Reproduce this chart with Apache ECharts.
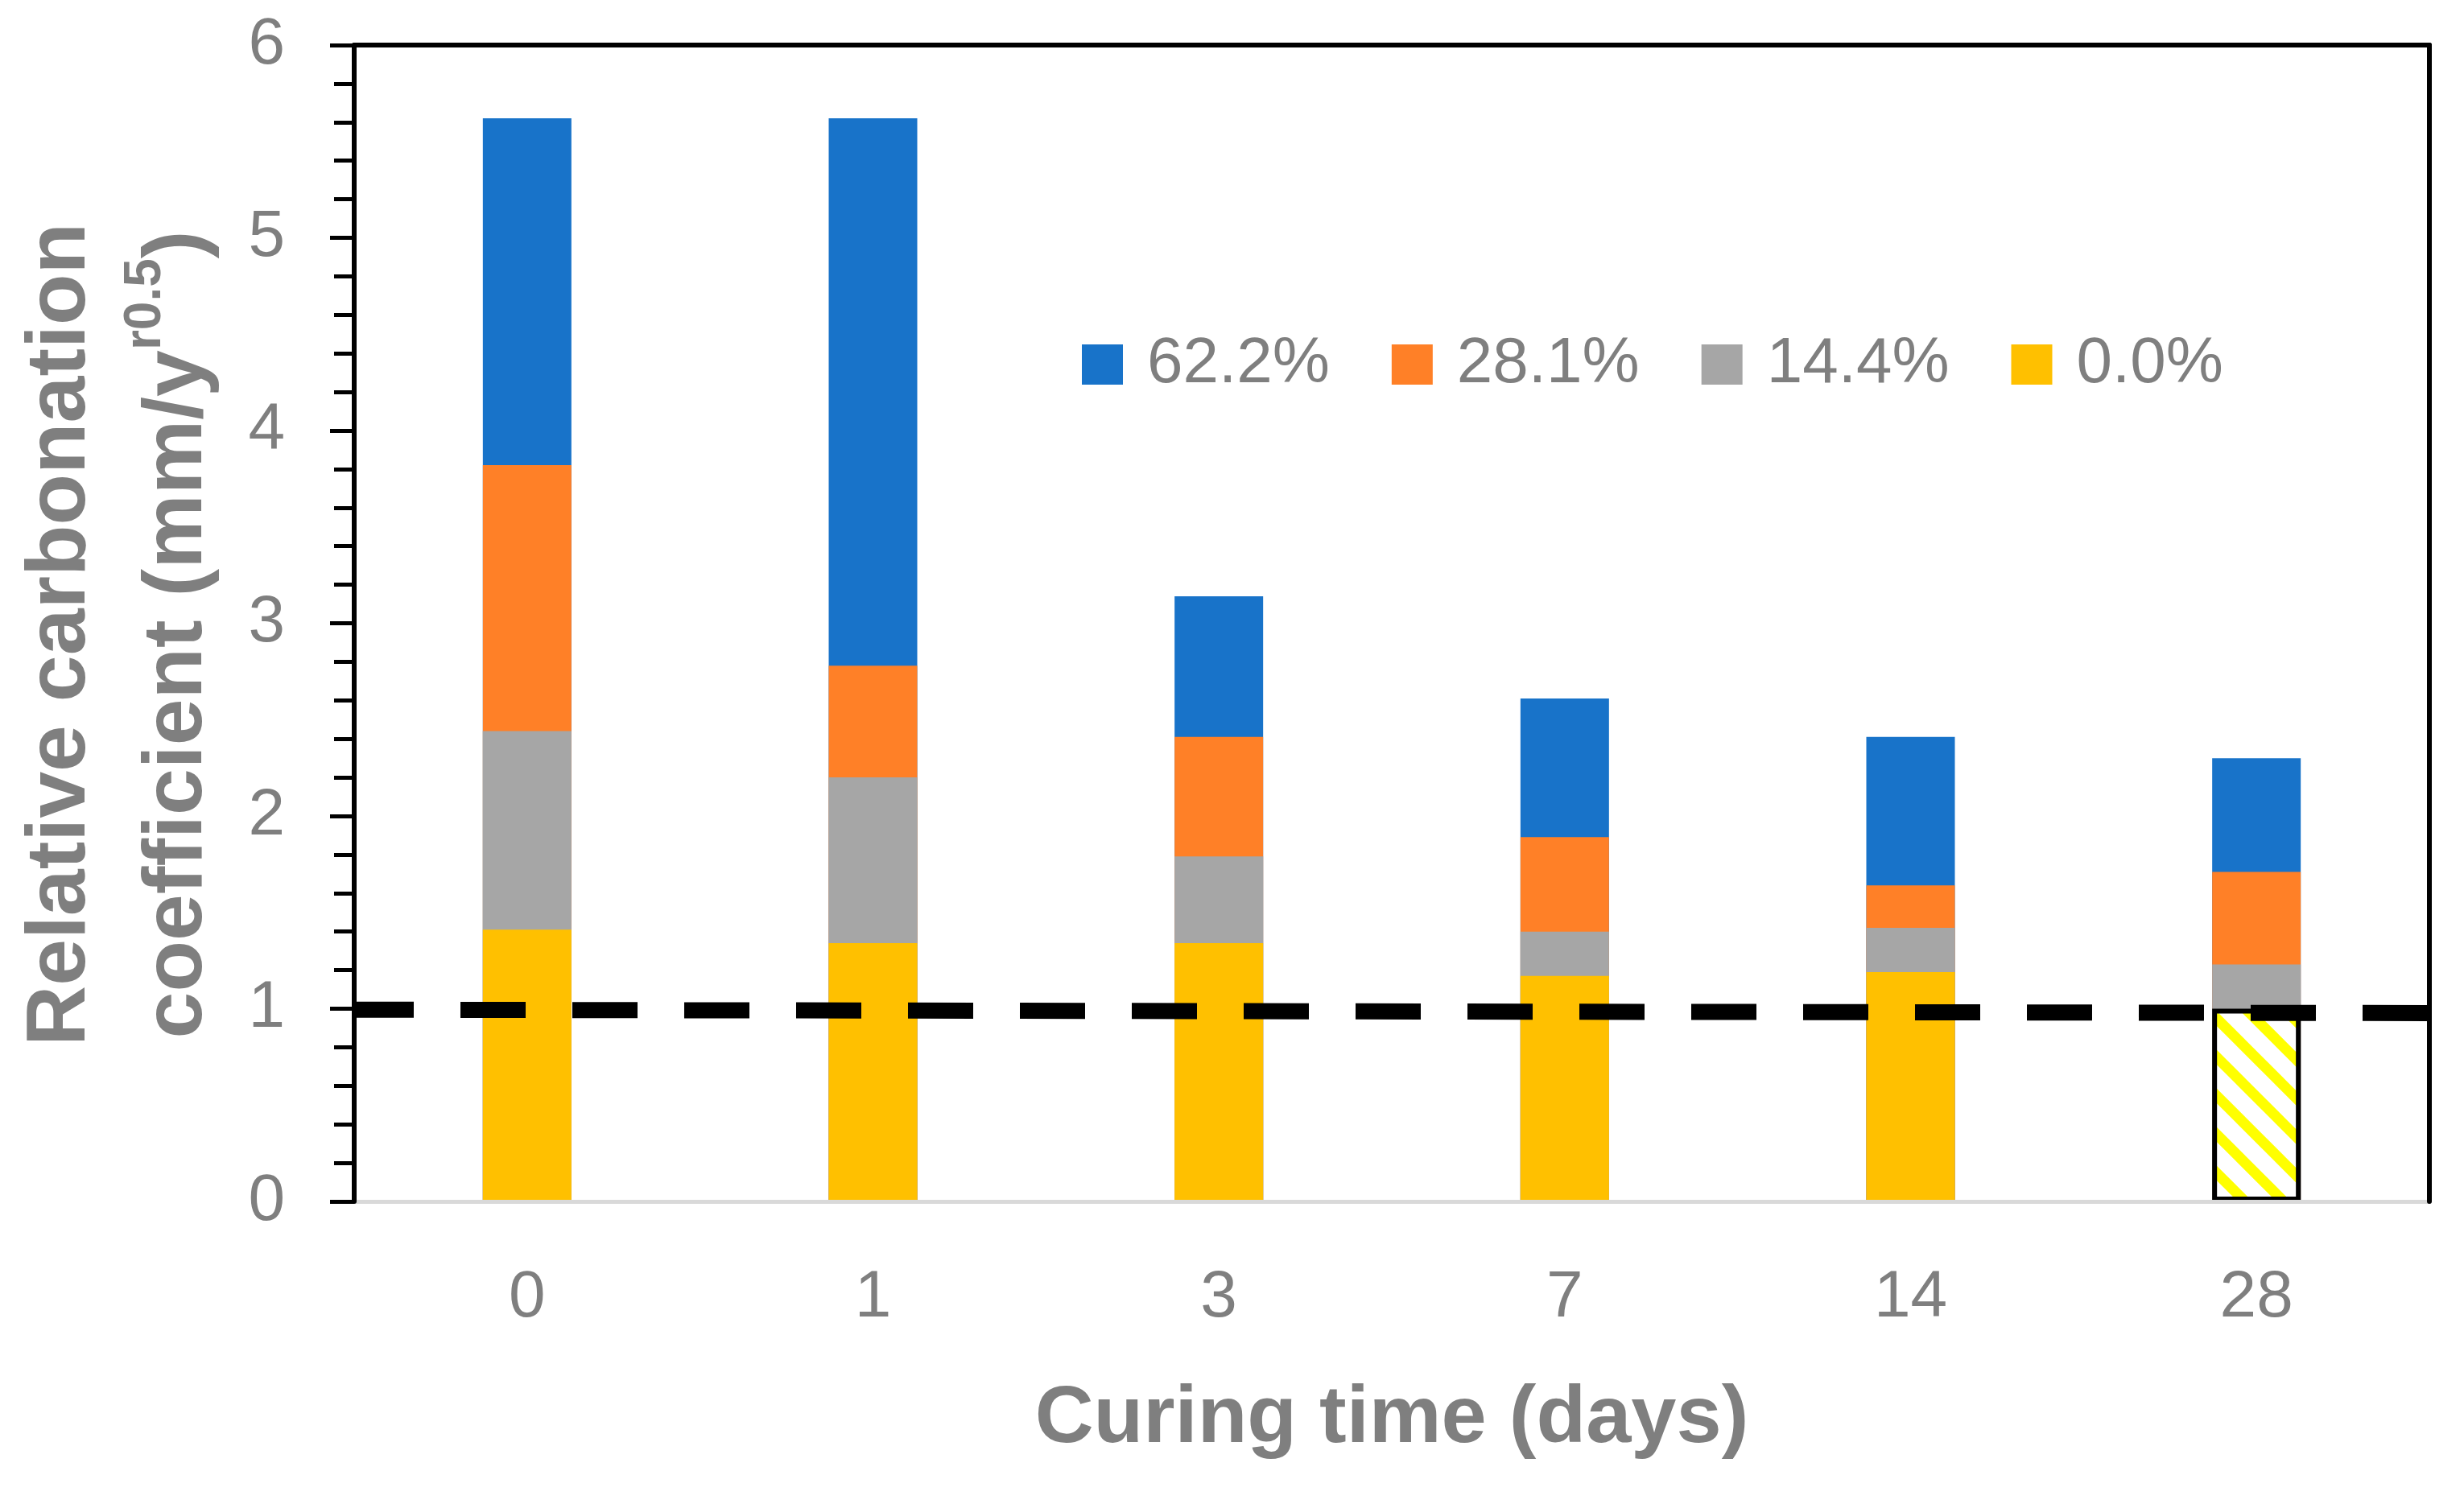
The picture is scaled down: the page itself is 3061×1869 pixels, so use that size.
<!DOCTYPE html>
<html>
<head>
<meta charset="utf-8">
<script src="https://cdn.jsdelivr.net/npm/echarts@6/dist/echarts.min.js"></script>
<style>
html,body{margin:0;padding:0;background:#fff;}
#chart{width:3061px;height:1869px;}
</style>
</head>
<body>
<div id="chart"></div>
<script>
// ---- data ----
const categories = ['0', '1', '3', '7', '14', '28'];
const seriesNames = ['62.2%', '28.1%', '14.4%', '0.0%'];
const s622 = [5.62, 5.62, 3.14, 2.61, 2.41, 2.30];
const s281 = [3.82, 2.78, 2.41, 1.89, 1.64, 1.71];
const s144 = [2.44, 2.20, 1.79, 1.40, 1.42, 1.23];
const s000 = [1.41, 1.34, 1.34, 1.17, 1.19, 1.00];
const hatchedIndex = 5; // the 28-day control bar drawn hatched
const refLine = [[0, 0.995], [1, 0.977]];

// ---- styles ----
const GREY = '#7f7f7f';
const FONT = "'Liberation Sans', Arial, sans-serif";
const colors = ['#1873C9', '#FF8027', '#A6A6A6', '#FFC000'];

function hatch() {
  const c = document.createElement('canvas');
  const n = 48;
  c.width = n; c.height = n;
  const g = c.getContext('2d');
  g.fillStyle = '#ffffff';
  g.fillRect(0, 0, n, n);
  g.strokeStyle = '#FFFF00';
  g.lineWidth = 13;
  for (let k = -1; k <= 1; k++) {
    g.beginPath();
    g.moveTo(-n + k * n, -n);
    g.lineTo(2 * n + k * n, 2 * n);
    g.stroke();
  }
  return c;
}

const yellowData = s000.map((v, i) => i === hatchedIndex
  ? { value: v, itemStyle: { color: { image: hatch(), repeat: 'repeat' }, borderColor: '#000', borderWidth: 6 } }
  : v);

const chart = echarts.init(document.getElementById('chart'), null, { renderer: 'canvas' });

const barBase = {
  type: 'bar',
  barWidth: 110,
  barGap: '-100%',
  xAxisIndex: 0,
  yAxisIndex: 0,
  emphasis: { disabled: true },
  z: 2
};

chart.setOption({
  animation: false,
  backgroundColor: '#ffffff',
  grid: { left: 440, right: 43, top: 56, bottom: 376, containLabel: false },
  legend: {
    data: seriesNames,
    left: 1339,
    top: 408,
    icon: 'rect',
    itemWidth: 51,
    itemHeight: 50,
    itemGap: 77,
    textStyle: { fontSize: 80, color: GREY, fontFamily: FONT, padding: [0, 0, 0, 25] }
  },
  xAxis: [
    {
      type: 'category',
      data: categories,
      position: 'bottom',
      z: 5,
      axisLine: { show: true, onZero: false, lineStyle: { color: '#d9d9d9', width: 5 } },
      axisTick: { show: false },
      axisLabel: { fontSize: 82, color: GREY, fontFamily: FONT, margin: 79 },
      splitLine: { show: false },
      name: 'Curing time (days)',
      nameLocation: 'middle',
      nameGap: 221,
      nameTextStyle: { fontSize: 101, fontWeight: 'bold', color: GREY, fontFamily: FONT }
    },
    {
      type: 'category',
      data: categories,
      position: 'top',
      z: 5,
      axisLine: { show: true, onZero: false, lineStyle: { color: '#000', width: 6 } },
      axisTick: { show: false },
      axisLabel: { show: false },
      splitLine: { show: false }
    },
    {
      type: 'value',
      min: 0,
      max: 1,
      show: false,
      position: 'bottom',
      axisLine: { show: false, onZero: false },
      splitLine: { show: false }
    }
  ],
  yAxis: [
    {
      type: 'value',
      min: 0,
      max: 6,
      interval: 1,
      position: 'left',
      z: 6,
      axisLine: { show: true, onZero: false, lineStyle: { color: '#000', width: 6 } },
      axisTick: { show: true, inside: false, length: 30, lineStyle: { color: '#000', width: 5 } },
      minorTick: { show: true, splitNumber: 5, length: 25, lineStyle: { color: '#000', width: 5 } },
      axisLabel: { fontSize: 82, color: GREY, fontFamily: FONT, margin: 86 },
      splitLine: { show: false },
      minorSplitLine: { show: false },
      name: '{a|Relative carbonation}\n{a|coefficient (mm/y}{s|r0.5}{a|)}',
      nameLocation: 'middle',
      nameGap: 146,
      nameTextStyle: {
        color: GREY,
        fontFamily: FONT,
        padding: [0, 28, 0, 0],
        rich: {
          a: { fontSize: 104, fontWeight: 'bold', lineHeight: 145, color: GREY, fontFamily: FONT },
          s: { fontSize: 64, fontWeight: 'bold', lineHeight: 103, verticalAlign: 'top', color: GREY, fontFamily: FONT }
        }
      }
    },
    {
      type: 'value',
      min: 0,
      max: 6,
      interval: 1,
      position: 'right',
      z: 6,
      axisLine: { show: true, onZero: false, lineStyle: { color: '#000', width: 6 } },
      axisTick: { show: false },
      axisLabel: { show: false },
      splitLine: { show: false }
    }
  ],
  series: [
    Object.assign({}, barBase, { name: seriesNames[0], data: s622, itemStyle: { color: colors[0] } }),
    Object.assign({}, barBase, { name: seriesNames[1], data: s281, itemStyle: { color: colors[1] } }),
    Object.assign({}, barBase, { name: seriesNames[2], data: s144, itemStyle: { color: colors[2] } }),
    Object.assign({}, barBase, { name: seriesNames[3], data: yellowData, itemStyle: { color: colors[3] } }),
    {
      type: 'line',
      name: 'reference',
      xAxisIndex: 2,
      yAxisIndex: 0,
      data: refLine,
      symbol: 'none',
      silent: true,
      z: 10,
      lineStyle: { color: '#000', width: 20, type: [81, 58], dashOffset: 7, cap: 'butt' }
    }
  ]
});
</script>
</body>
</html>
